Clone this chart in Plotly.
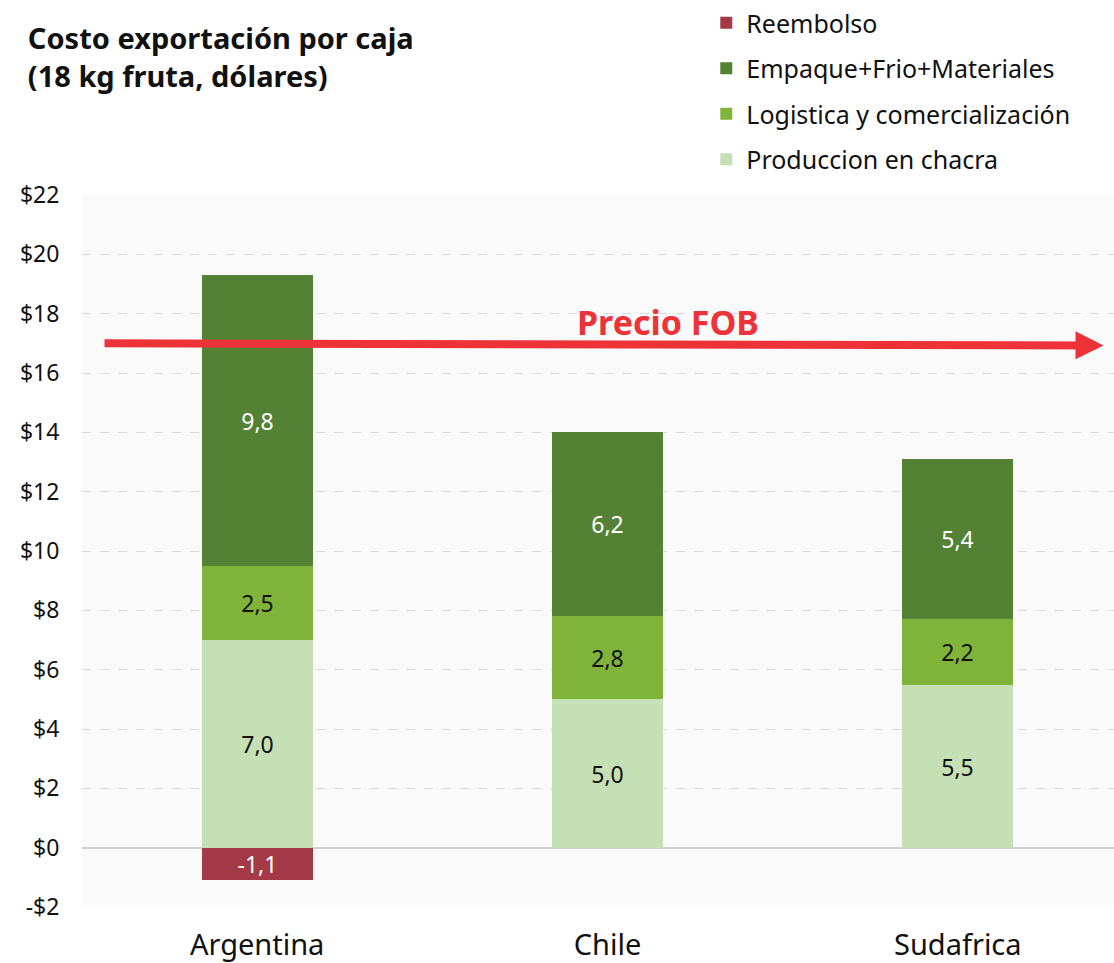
import plotly.graph_objects as go

categories = ["Argentina", "Chile", "Sudafrica"]
produccion = [7.0, 5.0, 5.5]
logistica = [2.5, 2.8, 2.2]
empaque = [9.8, 6.2, 5.4]
reembolso = [-1.1, None, None]
precio_fob = 17.0

y_ticks = [-2, 0, 2, 4, 6, 8, 10, 12, 14, 16, 18, 20, 22]
y_tick_labels = [("-$" + str(-v)) if v < 0 else ("$" + str(v)) for v in y_ticks]

FONT = "Noto Sans"

def fmt(vals):
    return [("" if v is None else f"{v:.1f}".replace(".", ",")) for v in vals]

fig = go.Figure()
series = [
    ("Produccion en chacra", produccion, "#c5e0b4", "#111111", 4),
    ("Logistica y comercialización", logistica, "#80b33a", "#111111", 3),
    ("Empaque+Frio+Materiales", empaque, "#548235", "#ffffff", 2),
    ("Reembolso", reembolso, "#a53a47", "#ffffff", 1),
]
for name, vals, color, tcolor, rank in series:
    fig.add_trace(go.Bar(
        x=categories, y=vals, name=name,
        marker=dict(color=color, line=dict(width=0)),
        text=fmt(vals), textposition="inside", insidetextanchor="middle",
        textfont=dict(family=FONT, size=23, color=tcolor),
        constraintext="none",
        width=0.317, legendrank=rank, legendgroup=name,
        hoverinfo="skip",
    ))

fig.update_layout(
    width=1114, height=963,
    barmode="relative",
    paper_bgcolor="white",
    plot_bgcolor="#fafafa",
    margin=dict(l=82, r=0, t=195, b=56, autoexpand=False),
    font=dict(family=FONT, color="#111111"),
    title=dict(
        text="<b>Costo exportación por caja<br>(18 kg fruta, dólares)</b>",
        x=0.025, xref="container", xanchor="left",
        y=0.97, yref="container", yanchor="top",
        font=dict(family=FONT, size=29, color="#111111"),
        pad=dict(t=20),
    ),
    legend=dict(
        x=0.634, xanchor="left", xref="container",
        y=1.012, yanchor="top", yref="container",
        font=dict(family=FONT, size=25, color="#111111"),
        tracegroupgap=10, bgcolor="rgba(0,0,0,0)",
        traceorder="grouped",
    ),
    showlegend=True,
    bargap=0,
)
fig.update_xaxes(
    range=[-0.5, 2.446], showgrid=False, zeroline=False,
    ticks="outside", ticklen=12, tickcolor="rgba(0,0,0,0)",
    tickfont=dict(family=FONT, size=29, color="#111111"),
)
fig.update_yaxes(
    range=[-2, 22], tickvals=y_ticks, ticktext=y_tick_labels,
    showgrid=True, gridcolor="#d9d9d9", griddash="dash", gridwidth=1,
    zeroline=True, zerolinecolor="#d0d0d0", zerolinewidth=2,
    ticks="outside", ticklen=17, tickcolor="rgba(0,0,0,0)",
    tickfont=dict(family=FONT, size=23, color="#111111"),
)

fig.add_annotation(
    x=2.416, y=precio_fob - 0.07, xref="x", yref="y",
    ax=-0.44, ay=precio_fob, axref="x", ayref="y",
    showarrow=True, arrowhead=2, arrowsize=0.7, arrowwidth=8,
    arrowcolor="#ee3338", text="",
)
fig.add_annotation(
    x=1.174, y=17.72, xref="x", yref="y", showarrow=False,
    text="<b>Precio FOB</b>",
    font=dict(family=FONT, size=34, color="#ee3338"),
)

fig.write_html("out.html", config={"displayModeBar": False},
               post_script="document.body.style.margin='0';")
